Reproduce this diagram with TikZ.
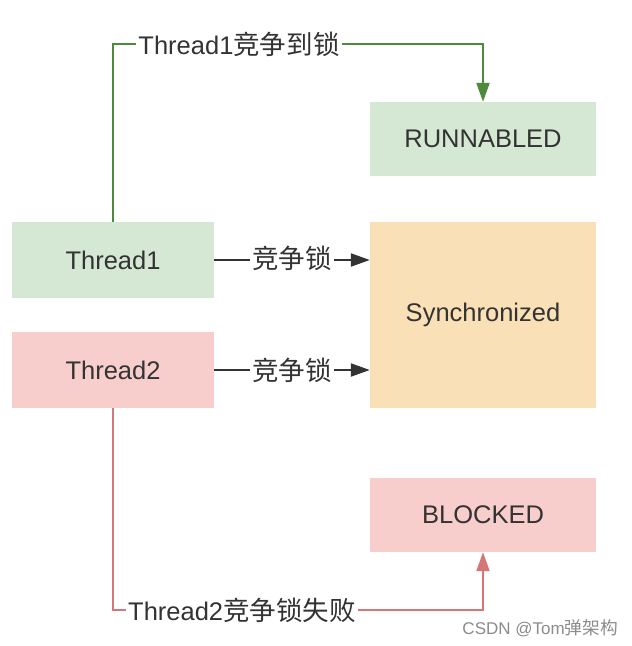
\documentclass[tikz,border=0pt]{standalone}
\usepackage{fontspec}
\setmainfont{Liberation Sans}
\newfontfamily\cjk{Noto Sans CJK SC}[Scale=1.04]
\usetikzlibrary{arrows.meta}
\definecolor{gfill}{HTML}{D5E8D4}
\definecolor{rfill}{HTML}{F8CECC}
\definecolor{ofill}{HTML}{FAE0B6}
\definecolor{gline}{HTML}{4F8A3C}
\definecolor{rline}{HTML}{D67676}
\definecolor{txt}{HTML}{333333}
\tikzset{
  box/.style={draw=none, minimum width=202pt, minimum height=76pt, inner sep=0pt, text=txt, font=\fontsize{25.5}{29}\selectfont},
  rbox/.style={draw=none, minimum width=226pt, inner sep=0pt, text=txt, font=\fontsize{25.5}{29}\selectfont},
  lbl/.style={fill=white, inner xsep=2.5pt, inner ysep=1pt, text=txt, font=\fontsize{25.5}{29}\selectfont},
  conn/.style={line width=2.2pt},
  tip/.style={-{Triangle[length=19pt,width=13pt]}}
}
\begin{document}
\begin{tikzpicture}[x=1pt,y=-1pt]
\useasboundingbox[fill=white] (0,0) rectangle (632,646);
\node[box, fill=gfill] (t1) at (113,260) {Thread1};
\node[box, fill=rfill] (t2) at (113,370) {Thread2};
\node[rbox, fill=gfill, minimum height=74pt] (run) at (483,139) {RUNNABLED};
\node[rbox, fill=ofill, minimum height=186pt] (sync) at (483,315) {Synchronized};
\node[rbox, fill=rfill, minimum height=74pt] (blk) at (483,515) {BLOCKED};
% green path
\coordinate (g1) at (113,44);
\coordinate (g2) at (483,44);
\draw[conn, gline, tip] (t1.north) -- (g1) -- (g2) -- (run.north);
\node[lbl] (gl) at (239,44) {Thread1{\cjk 竞争到锁}};
% red path
\coordinate (r1) at (113,610);
\coordinate (r2) at (483,610);
\draw[conn, rline, tip] (t2.south) -- (r1) -- (r2) -- (blk.south);
\node[lbl] (rl) at (242,610) {Thread2{\cjk 竞争锁失败}};
% black arrows
\draw[conn, txt, tip] (t1.east) -- (sync.west |- t1.east);
\node[lbl] (l1) at (292,258) {\cjk 竞争锁};
\draw[conn, txt, tip] (t2.east) -- (sync.west |- t2.east);
\node[lbl] (l2) at (292,370) {\cjk 竞争锁};
% watermark
\node[text=black!45, font=\fontsize{17}{20}\selectfont, anchor=east, inner sep=0pt] (wm) at (618,628) {CSDN @Tom{\cjk 弹架构}};
\end{tikzpicture}
\end{document}
